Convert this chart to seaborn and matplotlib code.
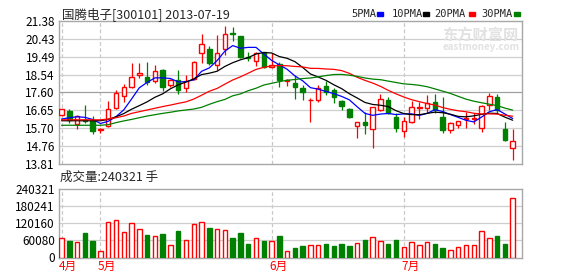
import numpy as np
import pandas as pd
import matplotlib
matplotlib.use("Agg")
import matplotlib.pyplot as plt
import matplotlib.transforms as mtransforms
from matplotlib.patches import Rectangle
import seaborn as sns

# ---------------- data ----------------
title = "国腾电子[300101] 2013-07-19"
opens = [16.39, 16.63, 15.91, 16.12, 16.09, 15.60, 15.82, 16.76, 17.41, 17.90,
         18.52, 18.40, 18.22, 18.79, 17.99, 18.26, 17.82, 18.30, 19.67, 19.90,
         19.05, 19.88, 20.75, 20.57, 19.45, 19.28, 19.72, 18.93, 19.09, 18.20,
         18.08, 17.85, 17.18, 17.20, 17.94, 17.73, 17.15, 16.71, 15.84, 16.02,
         15.66, 16.67, 17.20, 16.28, 15.57, 16.02, 16.79, 16.76, 17.08, 16.31,
         15.61, 15.87, 16.21, 16.18, 15.70, 16.93, 17.34, 15.65, 14.64]
closes = [16.72, 16.14, 16.33, 16.08, 15.57, 15.66, 16.71, 17.55, 17.90, 18.43,
          18.64, 18.13, 18.75, 17.90, 18.26, 17.73, 18.20, 19.23, 20.16, 19.17,
          19.67, 20.69, 20.70, 19.46, 19.40, 19.67, 18.93, 19.03, 18.26, 18.24,
          17.90, 17.64, 17.22, 17.85, 17.64, 17.34, 16.90, 16.31, 16.02, 15.89,
          16.81, 17.23, 16.49, 15.70, 16.09, 16.81, 16.83, 17.02, 16.67, 15.61,
          16.00, 16.09, 16.25, 16.23, 16.90, 17.41, 16.67, 15.08, 15.03]
highs = [16.74, 16.74, 16.42, 16.95, 16.35, 15.72, 17.15, 17.73, 18.05, 19.14,
         19.14, 19.21, 19.05, 18.82, 18.30, 18.79, 18.52, 19.27, 20.69, 20.06,
         20.64, 21.12, 21.08, 20.60, 19.72, 19.72, 19.75, 19.70, 19.23, 18.30,
         18.52, 17.99, 17.32, 17.99, 18.20, 17.82, 17.20, 16.76, 16.04, 16.58,
         16.84, 17.50, 17.37, 16.49, 16.31, 17.16, 17.11, 17.46, 17.50, 17.37,
         16.05, 16.11, 16.58, 16.53, 16.93, 17.55, 17.50, 16.02, 15.66]
lows = [16.37, 15.96, 15.65, 15.98, 15.38, 15.43, 15.75, 16.71, 17.11, 17.82,
        18.35, 17.99, 18.11, 17.69, 17.90, 17.52, 17.64, 18.25, 19.17, 19.05,
        18.79, 19.60, 20.34, 19.40, 19.28, 19.00, 18.90, 18.90, 17.90, 17.94,
        17.25, 17.20, 16.05, 17.11, 17.46, 17.02, 16.67, 16.23, 15.20, 15.40,
        14.67, 16.64, 16.46, 15.52, 15.22, 15.99, 16.18, 16.53, 16.49, 15.47,
        15.43, 15.70, 15.70, 15.91, 15.52, 16.67, 16.49, 15.05, 14.00]
volumes = [69500, 56500, 53000, 85000, 56500, 23500, 126000, 133000, 91000, 122000,
           101000, 78000, 77000, 81000, 45000, 92000, 62000, 117000, 126000, 102000,
           101000, 98000, 67000, 86000, 46000, 69500, 56500, 59000, 74000, 23500,
           35000, 39000, 45000, 45000, 46000, 42000, 49000, 39000, 52000, 60000,
           73000, 59000, 49000, 60000, 38000, 55000, 45000, 55000, 46000, 35000,
           27000, 38000, 45000, 45000, 94000, 69500, 74000, 46000, 207000]
# moving-average values at the start of the window (read from the chart,
# they depend on trading days before the first candle)
ma5_head = [16.19, 16.26, 16.31, 16.28]
ma10_head = [16.10, 16.10, 16.10, 16.10, 16.10, 16.10, 16.17, 16.31, 16.48]
ma20_head = [16.15, 16.15, 16.15, 16.15, 16.15, 16.15, 16.19, 16.26, 16.35, 16.49,
             16.58, 16.67, 16.76, 16.85, 16.93, 17.02, 17.10, 17.25, 17.45]
ma30_head = [15.86, 15.86, 15.86, 15.86, 15.86, 15.86, 15.89, 16.00, 16.09, 16.17,
             16.26, 16.35, 16.42, 16.49, 16.55, 16.62, 16.67, 16.72, 16.81, 16.97,
             17.11, 17.23, 17.42, 17.52, 17.69, 17.82, 17.99, 18.08, 18.17]
price_ticks = [13.81, 14.76, 15.70, 16.65, 17.60, 18.54, 19.49, 20.43, 21.38]
vol_ticks = [0, 60080, 120160, 180241, 240321]
month_idx = [0, 5, 27, 44]
month_labels = ["4月", "5月", "6月", "7月"]
ma_names = ["5PMA", "10PMA", "20PMA", "30PMA"]
ma_colors = ["#0000ff", "#000000", "#ff0000", "#008000"]
vol_label = "成交量:240321 手"

# ---------------- style ----------------
sns.set_style("white")
plt.rcParams["font.family"] = ["Noto Sans CJK SC", "DejaVu Sans"]
RED, GREEN = "#ff0000", "#008000"

n = len(closes)
idx = np.arange(n)
df = pd.DataFrame({"i": idx, "open": opens, "close": closes, "high": highs,
                   "low": lows, "vol": volumes})
df["up"] = df["close"] >= df["open"]

def ma(period, head):
    s = df["close"].rolling(period).mean()
    s.iloc[:len(head)] = head
    return s.values

mas = [ma(5, ma5_head), ma(10, ma10_head), ma(20, ma20_head), ma(30, ma30_head)]

W, H = 578, 276
fig = plt.figure(figsize=(W / 100, H / 100), dpi=100)

def rect(l, t, r, b):
    return [l / W, 1 - b / H, (r - l) / W, (b - t) / H]

ax = fig.add_axes(rect(59, 21, 522, 164))
axv = fig.add_axes(rect(59, 189, 522, 257.5))

xlim = (-0.33, n + 0.2)
for a in (ax, axv):
    a.set_xlim(*xlim)
    a.set_xticks([])
    for s in a.spines.values():
        s.set_color("#a8a8a8")
        s.set_linewidth(1)
    a.tick_params(axis="y", length=0, pad=3, labelsize=8.5, colors="#000000")
    for m in month_idx:
        a.axvline(m, color="#c8c8c8", lw=0.9, ls=(0, (3, 2)), zorder=0)

# price panel
ax.set_ylim(price_ticks[0], price_ticks[-1])
ax.set_yticks(price_ticks)
ax.set_yticklabels([f"{t:.2f}" for t in price_ticks])
for t in price_ticks[1:-1]:
    ax.axhline(t, color="#a0a0a0" if t == 17.60 else "#cfcfcf", lw=0.9, zorder=0)

bw = 0.58
for r in df.itertuples():
    col = RED if r.up else GREEN
    lo, hi = min(r.open, r.close), max(r.open, r.close)
    ax.vlines(r.i, r.low, r.high, color=col, lw=0.9, zorder=2)
    hgt = max(hi - lo, 0.02)
    ax.add_patch(Rectangle((r.i - bw / 2, lo), bw, hgt,
                           facecolor="white" if r.up else col,
                           edgecolor=col, lw=1.0, zorder=3))

for vals, c in zip(mas, ma_colors):
    sns.lineplot(x=idx, y=vals, color=c, lw=0.9, ax=ax, zorder=4, legend=False)
ax.set_xlabel("")
ax.set_ylabel("")

# volume panel
axv.set_ylim(0, vol_ticks[-1])
axv.set_yticks(vol_ticks)
axv.set_yticklabels([str(t) for t in vol_ticks])
for t in vol_ticks[1:-1]:
    axv.axhline(t, color="#cfcfcf", lw=0.9, zorder=0)
for r in df.itertuples():
    col = RED if r.up else GREEN
    axv.add_patch(Rectangle((r.i - bw / 2, 0), bw, r.vol,
                            facecolor="white" if r.up else col,
                            edgecolor=col, lw=1.0, zorder=3))
axv.set_xlabel("")
axv.set_ylabel("")

# month labels
tr = mtransforms.blended_transform_factory(axv.transData, axv.transAxes)
for m, lab in zip(month_idx, month_labels):
    axv.text(m - 0.3, -0.13, lab, transform=tr, color=RED, fontsize=8.5,
             ha="left", va="center")

# texts
def ftext(x, y, s, **kw):
    fig.text(x / W, 1 - y / H, s, **kw)

ftext(62, 14, title, fontsize=9, va="center", ha="left")
ftext(60, 177, vol_label, fontsize=9, va="center", ha="left")

leg_x = [351, 391.5, 434, 481.5]
sq_x = [377, 423, 469, 514]
for name, c, lx, sx in zip(ma_names, ma_colors, leg_x, sq_x):
    ftext(lx, 14, name, fontsize=7.5, va="center", ha="left",
          family=["DejaVu Sans Mono"])
    fig.add_artist(Rectangle((sx / W, 1 - 15.5 / H), 6 / W, 3 / H,
                             transform=fig.transFigure, color=c))

# watermark
ftext(480, 35, "东方财富网", fontsize=11, color="#e2e2e2", ha="center",
      va="center", weight="bold", zorder=0)
ftext(481, 47, "eastmoney.com", fontsize=7, color="#e2e2e2", ha="center",
      va="center", weight="bold", style="italic", zorder=0)

fig.savefig("out.png", dpi=100)
